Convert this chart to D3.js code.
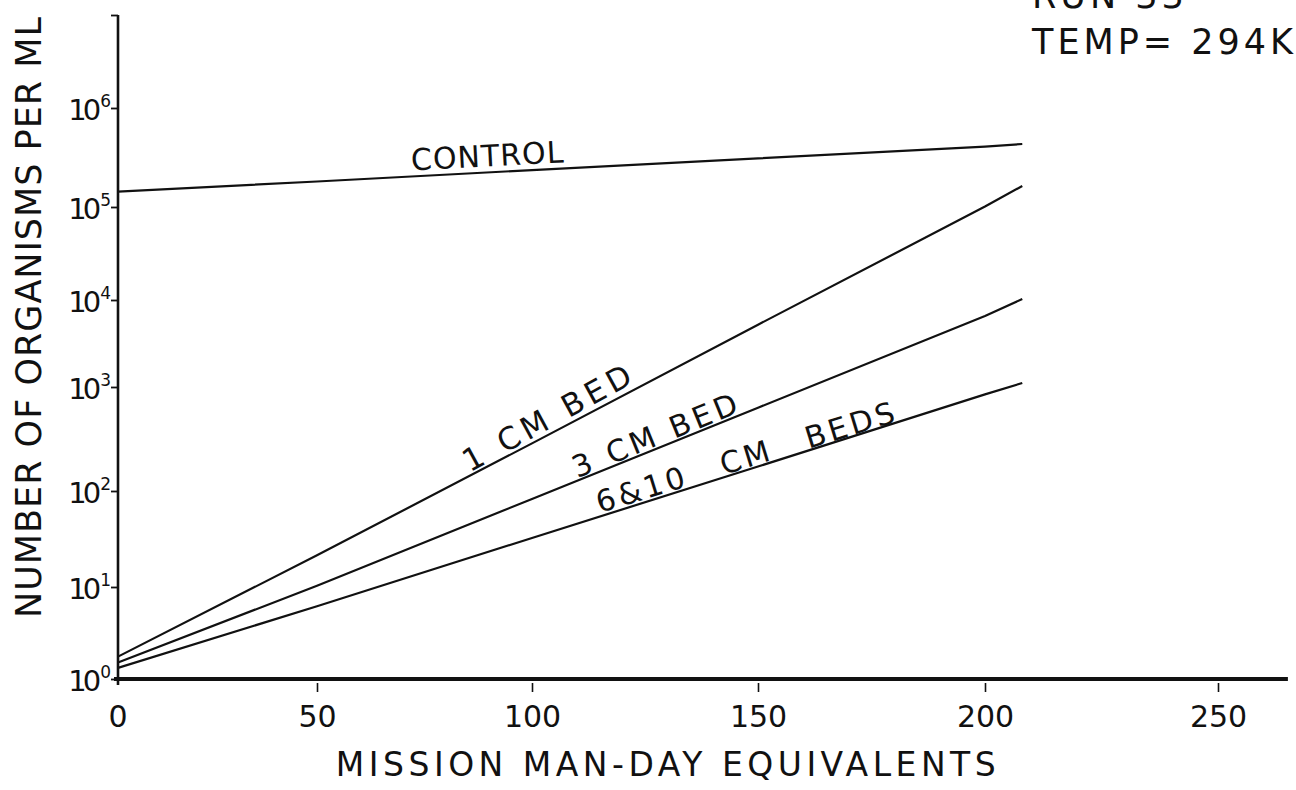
<!DOCTYPE html>
<html>
<head>
<meta charset="utf-8">
<script src="https://cdn.jsdelivr.net/npm/d3@7"></script>
<style>
  body { margin: 0; background: #fff; }
  text { font-family: "DejaVu Sans", sans-serif; fill: #111; }
</style>
</head>
<body>
<svg id="chart" width="1296" height="790"></svg>
<script>
// Mission man-day equivalents (x) and organism counts per ml (y, log scale)
const dayTicks = [0, 50, 100, 150, 200, 250];
const decadeExponents = [0, 1, 2, 3, 4, 5, 6, 7];
const manDays = [0, 50, 100, 150, 200, 208];
const control = [1.43e5, 1.81e5, 2.36e5, 3.10e5, 4.08e5, 4.33e5];
const bed1cm = [1.75, 21.4, 287, 5200, 1.01e5, 1.63e5];
const bed3cm = [1.51, 10.3, 82.6, 632, 6550, 10250];
const bed6and10cm = [1.32, 6.18, 32.4, 172, 849, 1110];
const seriesLabels = ["CONTROL", "1 CM BED", "3 CM BED", "6&10 CM BEDS"];
const headerLines = ["RUN 33", "TEMP= 294K"];
const xTitle = "MISSION MAN-DAY EQUIVALENTS";
const yTitle = "NUMBER OF ORGANISMS PER ML";

const svg = d3.select("#chart");

// Hand-ruled axes: tick spacing on the sheet is not perfectly even,
// so both scales are piecewise between the ruled ticks.
const x = d3.scaleLinear()
  .domain(dayTicks)
  .range([118, 317, 532, 758, 985, 1218]);

const y = d3.scaleLog()
  .domain(decadeExponents.map(e => Math.pow(10, e)))
  .range([679, 587, 491, 387, 300, 207, 108, 15]);

const ink = "#111";

// x axis
const xAxis = d3.axisBottom(x)
  .tickValues(dayTicks.slice(1))
  .tickSize(9)
  .tickPadding(14)
  .tickFormat(d3.format("d"));
const gx = svg.append("g")
  .attr("transform", `translate(0,${y(1) + 4})`)
  .call(xAxis);
gx.select(".domain").remove();
gx.selectAll(".tick line").attr("stroke", ink).attr("stroke-width", 1.6);
gx.selectAll(".tick text")
  .style("font-size", "30px").attr("fill", ink);

// zero label under the origin
svg.append("text")
  .attr("x", x(0)).attr("y", y(1) + 48)
  .attr("text-anchor", "middle")
  .style("font-size", "30px")
  .text("0");

svg.append("line")
  .attr("x1", x(0) - 4).attr("x2", x(265))
  .attr("y1", y(1)).attr("y2", y(1))
  .attr("stroke", ink).attr("stroke-width", 4);

// y axis
const yAxis = d3.axisLeft(y)
  .tickValues(decadeExponents.map(e => Math.pow(10, e)))
  .tickSize(7)
  .tickFormat("");
const gy = svg.append("g")
  .attr("transform", `translate(${x(0)},0)`)
  .call(yAxis);
gy.select(".domain").remove();
gy.selectAll(".tick line").attr("stroke", ink).attr("stroke-width", 1.8);

svg.append("line")
  .attr("x1", x(0)).attr("x2", x(0))
  .attr("y1", y(1) + 6).attr("y2", y(1e7))
  .attr("stroke", ink).attr("stroke-width", 2.6);

// decade labels 10^0 .. 10^6
const decLabels = svg.append("g").selectAll("text")
  .data(decadeExponents.slice(0, 7))
  .join("text")
  .attr("x", x(0) - 7)
  .attr("y", e => y(Math.pow(10, e)) + 12)
  .attr("text-anchor", "end")
  .style("font-size", "29px");
decLabels.append("tspan")
  .style("letter-spacing", "-4px")
  .text("10");
decLabels.append("tspan")
  .attr("dx", 3)
  .attr("dy", -13)
  .style("font-size", "17px")
  .text(e => e);

// axis titles
svg.append("text")
  .attr("x", 668).attr("y", 776)
  .attr("text-anchor", "middle")
  .style("font-size", "33px")
  .style("letter-spacing", "4.5px")
  .text(xTitle);

svg.append("text")
  .attr("transform", "translate(41,317) rotate(-90)")
  .attr("text-anchor", "middle")
  .style("font-size", "35px")
  .style("letter-spacing", "1px")
  .text(yTitle);

// header note, top right
svg.append("g").selectAll("text")
  .data(headerLines)
  .join("text")
  .attr("x", 1032)
  .attr("y", (d, i) => 8 + i * 46)
  .style("font-size", "35px")
  .style("letter-spacing", "4px")
  .text(d => d);

// curves
const series = [control, bed1cm, bed3cm, bed6and10cm];
const line = d3.line()
  .x((d, i) => x(manDays[i]))
  .y(d => y(d));

svg.append("g").selectAll("path")
  .data(series)
  .join("path")
  .attr("d", line)
  .attr("fill", "none")
  .attr("stroke", ink)
  .attr("stroke-width", 2.2)
  .attr("stroke-linejoin", "round");

// labels lettered along each curve: start day, lift above the curve, size, spacing
const labelStyle = [
  { day: 72, lift: 6, size: 30, spacing: 1, words: 0 },
  { day: 85.5, lift: 5, size: 31, spacing: 5, words: 0 },
  { day: 110, lift: 3, size: 30, spacing: 4, words: 0 },
  { day: 115, lift: 4, size: 30, spacing: 3.5, words: 22 }
];
function valueAt(values, day) {
  const interp = d3.scaleLinear().domain(manDays).range(values.map(v => Math.log10(v)));
  return Math.pow(10, interp(day));
}
series.forEach((values, i) => {
  const s = labelStyle[i];
  const px = x(s.day), py = y(valueAt(values, s.day));
  const px2 = x(s.day + 10), py2 = y(valueAt(values, s.day + 10));
  const angle = Math.atan2(py2 - py, px2 - px) * 180 / Math.PI;
  svg.append("text")
    .attr("transform", `translate(${px},${py - s.lift}) rotate(${angle})`)
    .style("font-size", s.size + "px")
    .style("letter-spacing", s.spacing + "px")
    .style("word-spacing", s.words + "px")
    .text(seriesLabels[i]);
});
</script>
</body>
</html>
